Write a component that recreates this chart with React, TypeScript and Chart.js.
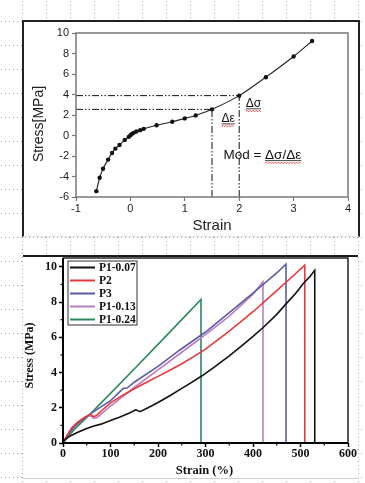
import React, { useEffect, useRef } from 'react';
import { Chart, registerables } from 'chart.js';

Chart.register(...registerables);

// ================= Top panel data =================
const topStrain = [-0.626, -0.565, -0.503, -0.41, -0.337, -0.276, -0.2, -0.104, -0.03, 0, 0.03, 0.06, 0.11, 0.18, 0.245, 0.48, 0.77, 1.0, 1.2, 1.5, 2.0, 2.49, 3.0, 3.34];
const topStress = [-5.43, -4.12, -3.24, -2.35, -1.7, -1.28, -0.92, -0.43, -0.13, 0.03, 0.16, 0.26, 0.39, 0.52, 0.65, 1.0, 1.34, 1.67, 1.96, 2.55, 3.89, 5.69, 7.71, 9.22];
const guideStrain = [1.5, 2.0];
const guideStress = [2.55, 3.89];
const topXTicks = [-1, 0, 1, 2, 3, 4];
const topYTicks = [-6, -4, -2, 0, 2, 4, 6, 8, 10];

// ================= Bottom panel data =================
const seriesNames = ['P1-0.07', 'P2', 'P3', 'P1-0.13', 'P1-0.24'];
const strainP107 = [0, 5, 15, 30, 50, 65, 80, 100, 120, 140, 153, 157, 162, 180, 200, 225, 250, 270, 292, 320, 350, 380, 400, 422, 450, 471, 490, 506, 520, 530, 530];
const stressP107 = [0, 0.2, 0.4, 0.6, 0.82, 0.97, 1.07, 1.27, 1.47, 1.7, 1.88, 1.85, 1.78, 2.02, 2.3, 2.68, 3.1, 3.43, 3.8, 4.33, 4.95, 5.6, 6.05, 6.57, 7.3, 7.94, 8.5, 9.05, 9.45, 9.8, 0];
const strainP2 = [0, 8, 18, 30, 45, 58, 63, 70, 80, 100, 125, 150, 175, 200, 225, 250, 275, 300, 350, 400, 450, 490, 509, 509];
const stressP2 = [0, 0.4, 0.85, 1.15, 1.45, 1.65, 1.5, 1.55, 1.8, 2.28, 2.7, 3.08, 3.43, 3.78, 4.13, 4.5, 4.9, 5.33, 6.35, 7.45, 8.65, 9.62, 10.1, 0];
const strainP3 = [0, 10, 25, 40, 60, 80, 100, 127, 135, 150, 200, 246, 300, 350, 400, 450, 469.5, 469.5];
const stressP3 = [0, 0.45, 0.95, 1.3, 1.7, 2.05, 2.4, 3.1, 3.12, 3.45, 4.35, 5.28, 6.3, 7.4, 8.5, 9.65, 10.15, 0];
const strainP113 = [0, 8, 20, 35, 50, 58, 65, 72, 85, 100, 150, 200, 250, 300, 350, 400, 421, 421];
const stressP113 = [0, 0.4, 0.9, 1.25, 1.5, 1.55, 1.4, 1.45, 1.75, 2.1, 3.15, 4.15, 5.15, 6.15, 7.2, 8.45, 9.15, 0];
const strainP124 = [0, 10, 25, 50, 100, 150, 200, 250, 290.5, 290.5];
const stressP124 = [0, 0.35, 0.8, 1.45, 2.82, 4.2, 5.6, 7.0, 8.15, 0];
const bottomXTicks = [0, 100, 200, 300, 400, 500, 600];
const bottomYTicks = [0, 2, 4, 6, 8, 10];
const bottomXMinor = [50, 150, 250, 350, 450, 550];
const bottomYMinor = [1, 3, 5, 7, 9];
const bottomYMax = 10.5;

const seriesColors = ['#111111', '#e8393a', '#5b5ba8', '#bd7cbe', '#2a8a5c'];

const SANS = '"Liberation Sans", Arial, sans-serif';
const SERIF = '"Liberation Serif", "Times New Roman", serif';

const topNotes = [
  { pre: '', text: 'Δσ', x: 2.12, y: 3.17, size: 12 },
  { pre: '', text: 'Δε', x: 1.675, y: 1.7, size: 12 },
  { pre: 'Mod = ', text: 'Δσ/Δε', x: 1.71, y: -1.83, size: 13.5 },
];

function squiggle(ctx: CanvasRenderingContext2D, x0: number, x1: number, y: number) {
  ctx.beginPath();
  let up = true;
  ctx.moveTo(x0, y);
  for (let x = x0 + 1.5; x <= x1; x += 1.5) {
    ctx.lineTo(x, up ? y - 1 : y + 0.5);
    up = !up;
  }
  ctx.stroke();
}

const topDecor = {
  id: 'topDecor',
  afterDraw(chart: any) {
    const { ctx, chartArea: a, scales } = chart;
    const sx = scales.x, sy = scales.y;
    ctx.save();
    ctx.strokeStyle = '#808080';
    ctx.lineWidth = 1.6;
    ctx.strokeRect(a.left, a.top, a.right - a.left, a.bottom - a.top);

    ctx.fillStyle = '#222';
    ctx.textAlign = 'center';
    ctx.textBaseline = 'middle';
    ctx.font = `14px ${SANS}`;
    ctx.save();
    ctx.translate(15, (a.top + a.bottom) / 2 + 9);
    ctx.rotate(-Math.PI / 2);
    ctx.fillText('Stress[MPa]', 0, 0);
    ctx.restore();
    ctx.font = `15px ${SANS}`;
    ctx.fillText('Strain', (a.left + a.right) / 2, 204);

    ctx.textAlign = 'left';
    ctx.textBaseline = 'alphabetic';
    for (const n of topNotes) {
      const px = sx.getPixelForValue(n.x);
      const py = sy.getPixelForValue(n.y);
      ctx.font = `${n.size}px ${SANS}`;
      const by = py + n.size * 0.36;
      ctx.fillStyle = '#111';
      ctx.fillText(n.pre + n.text, px, by);
      const w0 = ctx.measureText(n.pre).width;
      const w1 = ctx.measureText(n.pre + n.text).width;
      ctx.strokeStyle = '#111';
      ctx.lineWidth = 0.8;
      ctx.beginPath();
      ctx.moveTo(px + w0, by + 1.5);
      ctx.lineTo(px + w1, by + 1.5);
      ctx.stroke();
      ctx.strokeStyle = '#e02828';
      ctx.lineWidth = 0.8;
      squiggle(ctx, px + w0, px + w1, by + 4);
    }
    ctx.restore();
  },
};

const bottomDecor = {
  id: 'bottomDecor',
  afterDraw(chart: any) {
    const { ctx, chartArea: a, scales } = chart;
    const sx = scales.x, sy = scales.y;
    ctx.save();
    ctx.strokeStyle = '#222';
    ctx.lineWidth = 1.5;
    ctx.beginPath();
    ctx.moveTo(a.left, a.top);
    ctx.lineTo(a.right, a.top);
    ctx.lineTo(a.right, a.bottom);
    ctx.stroke();
    ctx.strokeStyle = '#000';
    ctx.lineWidth = 2;
    ctx.beginPath();
    ctx.moveTo(a.left, a.top);
    ctx.lineTo(a.left, a.bottom);
    ctx.lineTo(a.right, a.bottom);
    ctx.stroke();

    ctx.lineWidth = 1.2;
    for (const v of bottomXMinor) {
      const px = sx.getPixelForValue(v);
      ctx.beginPath();
      ctx.moveTo(px, a.bottom);
      ctx.lineTo(px, a.bottom + 2.5);
      ctx.stroke();
    }
    for (const v of bottomYMinor) {
      const py = sy.getPixelForValue(v);
      ctx.beginPath();
      ctx.moveTo(a.left - 2.5, py);
      ctx.lineTo(a.left, py);
      ctx.stroke();
    }

    const lx = a.left + 5, ly = a.top + 3, lw = 69, lh = 64;
    ctx.fillStyle = '#fff';
    ctx.fillRect(lx, ly, lw, lh);
    ctx.strokeStyle = '#333';
    ctx.lineWidth = 1;
    ctx.strokeRect(lx, ly, lw, lh);
    ctx.font = `bold 11.5px ${SERIF}`;
    ctx.textAlign = 'left';
    ctx.textBaseline = 'middle';
    chart.data.datasets.forEach((ds: any, i: number) => {
      const yy = ly + 6.5 + i * 13;
      ctx.strokeStyle = ds.borderColor;
      ctx.lineWidth = 2;
      ctx.beginPath();
      ctx.moveTo(lx + 2, yy);
      ctx.lineTo(lx + 27, yy);
      ctx.stroke();
      ctx.fillStyle = '#111';
      ctx.fillText(ds.label, lx + 31, yy + 0.5);
    });

    ctx.fillStyle = '#111';
    ctx.textAlign = 'center';
    ctx.font = `bold 12px ${SERIF}`;
    ctx.save();
    ctx.translate(6, (a.top + a.bottom) / 2 + 5);
    ctx.rotate(-Math.PI / 2);
    ctx.fillText('Stress (MPa)', 0, 0);
    ctx.restore();
    ctx.font = `bold 12.5px ${SERIF}`;
    ctx.fillText('Strain (%)', (a.left + a.right) / 2 - 1, 214);
    ctx.restore();
  },
};

function topConfig(): any {
  const xMin = topXTicks[0], xMax = topXTicks[topXTicks.length - 1];
  const yMin = topYTicks[0], yMax = topYTicks[topYTicks.length - 1];
  const pts = topStrain.map((x, i) => ({ x, y: topStress[i] }));
  const guideSets = guideStrain.flatMap((e, i) => {
    const s = guideStress[i];
    const base = {
      showLine: true, borderColor: '#111', borderWidth: 1,
      borderDash: [7, 2, 1.5, 2, 1.5, 2], pointRadius: 0, fill: false,
    };
    return [
      { ...base, data: [{ x: xMin, y: s }, { x: e, y: s }] },
      { ...base, data: [{ x: e, y: yMin }, { x: e, y: s }] },
    ];
  });
  return {
    type: 'scatter',
    data: {
      datasets: [
        {
          data: pts, showLine: true, borderColor: '#222', borderWidth: 1.1,
          pointRadius: 2.2, pointBackgroundColor: '#111', pointBorderWidth: 0, tension: 0.3,
        },
        ...guideSets,
      ],
    },
    options: {
      responsive: false, animation: false, devicePixelRatio: 1,
      layout: { padding: { left: 0, top: 11, right: 10, bottom: 0 } },
      plugins: { legend: { display: false }, tooltip: { enabled: false } },
      scales: {
        x: {
          type: 'linear', min: xMin, max: xMax,
          afterFit: (s: any) => { s.height = 40; s.paddingLeft = 0; s.paddingRight = 0; },
          ticks: { stepSize: topXTicks[1] - topXTicks[0], font: { family: SANS, size: 11 }, color: '#222', padding: 1, maxRotation: 0, autoSkip: false },
          grid: { drawOnChartArea: false, drawTicks: true, tickLength: 4, tickColor: '#777', tickWidth: 1.2 },
          border: { display: false },
        },
        y: {
          type: 'linear', min: yMin, max: yMax,
          afterFit: (s: any) => { s.width = 52; s.paddingTop = 0; s.paddingBottom = 0; },
          ticks: { stepSize: topYTicks[1] - topYTicks[0], font: { family: SANS, size: 11 }, color: '#222', padding: 3, autoSkip: false },
          grid: { drawOnChartArea: false, drawTicks: true, tickLength: 4, tickColor: '#777', tickWidth: 1.2 },
          border: { display: false },
        },
      },
    },
    plugins: [topDecor],
  };
}

function bottomConfig(): any {
  const strains = [strainP107, strainP2, strainP3, strainP113, strainP124];
  const stresses = [stressP107, stressP2, stressP3, stressP113, stressP124];
  const datasets = seriesNames.map((name, k) => ({
    label: name,
    data: strains[k].map((x, i) => ({ x, y: stresses[k][i] })),
    showLine: true, borderColor: seriesColors[k], backgroundColor: seriesColors[k],
    borderWidth: 1.6, pointRadius: 0, tension: 0, fill: false,
  }));
  return {
    type: 'scatter',
    data: { datasets },
    options: {
      responsive: false, animation: false, devicePixelRatio: 1,
      layout: { padding: { left: 0, top: 1, right: 10, bottom: 0 } },
      plugins: { legend: { display: false }, tooltip: { enabled: false } },
      scales: {
        x: {
          type: 'linear', min: bottomXTicks[0], max: bottomXTicks[bottomXTicks.length - 1],
          afterFit: (s: any) => { s.height = 35; s.paddingLeft = 0; s.paddingRight = 0; },
          ticks: { stepSize: bottomXTicks[1] - bottomXTicks[0], font: { family: SERIF, size: 12, weight: 'bold' }, color: '#111', padding: 0, maxRotation: 0, autoSkip: false },
          grid: { drawOnChartArea: false, drawTicks: true, tickLength: 4, tickColor: '#000', tickWidth: 1.5 },
          border: { display: false },
        },
        y: {
          type: 'linear', min: bottomYTicks[0], max: bottomYMax,
          afterFit: (s: any) => { s.width = 39; s.paddingTop = 0; s.paddingBottom = 0; },
          ticks: { stepSize: bottomYTicks[1] - bottomYTicks[0], includeBounds: false, font: { family: SERIF, size: 12, weight: 'bold' }, color: '#111', padding: 2, autoSkip: false },
          grid: { drawOnChartArea: false, drawTicks: true, tickLength: 4, tickColor: '#000', tickWidth: 1.5 },
          border: { display: false },
        },
      },
    },
    plugins: [bottomDecor],
  };
}

export default function App() {
  const topRef = useRef<HTMLCanvasElement>(null);
  const botRef = useRef<HTMLCanvasElement>(null);

  useEffect(() => {
    const c1 = new Chart(topRef.current as HTMLCanvasElement, topConfig());
    const c2 = new Chart(botRef.current as HTMLCanvasElement, bottomConfig());
    return () => {
      c1.destroy();
      c2.destroy();
    };
  }, []);

  const dot = 'conic-gradient(from 270deg at 1px 1px, #a8a8a8 90deg, transparent 0)';

  return (
    <div
      style={{
        position: 'fixed', left: 0, top: 0, width: 365, height: 483, overflow: 'hidden',
        backgroundColor: '#fff',
        backgroundImage: `${dot}, ${dot}`,
        backgroundSize: '24px 4px, 4px 24px',
        backgroundPosition: '22px 1px, 1px 21px',
      }}
    >
      <div
        style={{
          position: 'absolute', left: 22, top: 20, width: 338, height: 217, boxSizing: 'border-box',
          background: '#fff', borderLeft: '2px solid #222', borderTop: '2px solid #222', borderRight: '2px solid #222',
          borderBottom: '1px solid #e4e4e4',
        }}
      />
      <canvas ref={topRef} width={334} height={215} style={{ position: 'absolute', left: 24, top: 22, width: 334, height: 215 }} />
      <div
        style={{
          position: 'absolute', left: 23, top: 255, width: 335, height: 224, boxSizing: 'border-box',
          background: '#fff', borderTop: '2px solid #1a1a1a', borderBottom: '1px solid #cfcfcf',
        }}
      />
      <canvas ref={botRef} width={334} height={221} style={{ position: 'absolute', left: 24, top: 257, width: 334, height: 221 }} />
    </div>
  );
}
